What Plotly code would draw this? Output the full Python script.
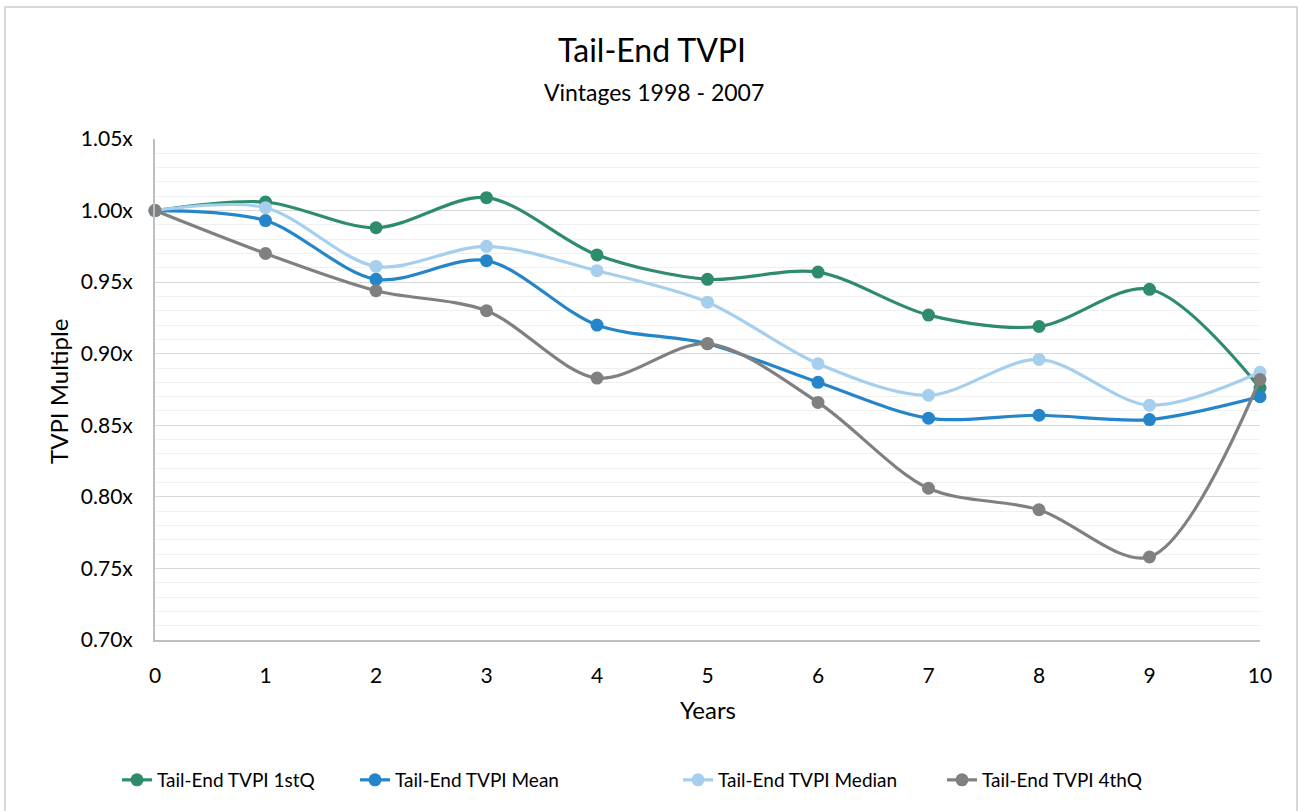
import plotly.graph_objects as go

years = [0, 1, 2, 3, 4, 5, 6, 7, 8, 9, 10]
q1 = [1.000, 1.006, 0.988, 1.009, 0.969, 0.952, 0.957, 0.927, 0.919, 0.945, 0.876]
mean = [1.000, 0.993, 0.952, 0.965, 0.920, 0.907, 0.880, 0.855, 0.857, 0.854, 0.870]
median = [1.000, 1.002, 0.961, 0.975, 0.958, 0.936, 0.893, 0.871, 0.896, 0.864, 0.887]
q4 = [1.000, 0.970, 0.944, 0.930, 0.883, 0.907, 0.866, 0.806, 0.791, 0.758, 0.882]

series = [
    ("Tail-End TVPI 1stQ", q1, "#2E8B6C", "legend"),
    ("Tail-End TVPI Mean", mean, "#2585C9", "legend2"),
    ("Tail-End TVPI Median", median, "#A6CFEE", "legend3"),
    ("Tail-End TVPI 4thQ", q4, "#808080", "legend4"),
]
legend_text_x = [157, 395, 718, 982]

FONT = "Lato, 'Open Sans', sans-serif"
L, R, T, B = 155, 39, 139, 171
PH = 811 - T - B
PW = 1299 - L - R


def py(p):
    return (811 - B - p) / PH


def px(p):
    return (p - L) / PW


fig = go.Figure()
for name, vals, color, lg in series:
    fig.add_trace(go.Scatter(
        x=years, y=vals, name=name, mode="lines+markers",
        line=dict(color=color, width=3.2, shape="spline", smoothing=0.9),
        marker=dict(color=color, size=13),
        cliponaxis=False, legend=lg,
    ))

legends = {}
for key, tx in zip(["legend", "legend2", "legend3", "legend4"], legend_text_x):
    legends[key] = dict(orientation="h", x=px(tx - 40), xanchor="left", y=py(780), yanchor="middle",
                        font=dict(size=19, family=FONT), bgcolor="rgba(0,0,0,0)")

fig.update_layout(
    width=1299, height=811,
    margin=dict(l=L, r=R, t=T, b=B),
    paper_bgcolor="white", plot_bgcolor="white",
    font=dict(family=FONT, size=21, color="#000000"),
    showlegend=True,
    **legends,
    xaxis=dict(
        range=[0, 10], tickmode="array", tickvals=years, ticktext=[str(v) for v in years],
        showgrid=False, zeroline=False, showline=True, linecolor="#bfbfbf", linewidth=2,
        ticks="", ticklabelstandoff=16, tickfont=dict(size=21),
    ),
    yaxis=dict(
        range=[0.70, 1.05], dtick=0.05, tick0=0.70, tickformat=".2f", ticksuffix="x",
        showgrid=True, gridcolor="#d9d9d9", gridwidth=1.2,
        minor=dict(dtick=0.01, showgrid=True, gridcolor="#f0f0f0", gridwidth=1),
        zeroline=False, showline=True, linecolor="#bfbfbf", linewidth=2,
        ticks="", ticklabelstandoff=16, tickfont=dict(size=21),
    ),
    annotations=[
        dict(text="Tail-End TVPI", xref="paper", yref="paper", x=px(652), y=py(50),
             xanchor="center", yanchor="middle", showarrow=False, font=dict(size=32)),
        dict(text="Vintages 1998 - 2007", xref="paper", yref="paper", x=px(654), y=py(92),
             xanchor="center", yanchor="middle", showarrow=False, font=dict(size=23)),
        dict(text="Years", xref="paper", yref="paper", x=px(708), y=py(709),
             xanchor="center", yanchor="middle", showarrow=False, font=dict(size=24)),
        dict(text="TVPI Multiple", xref="paper", yref="paper", x=px(58), y=py(392),
             xanchor="center", yanchor="middle", showarrow=False, textangle=-90,
             font=dict(size=24)),
    ],
    shapes=[dict(type="rect", xref="paper", yref="paper",
                 x0=px(5), x1=px(1297), y0=py(815), y1=py(7),
                 line=dict(color="#d9d9d9", width=2), fillcolor="rgba(0,0,0,0)", layer="below")],
)

fig.write_html("out.html", config={"displayModeBar": False},
               post_script="document.body.style.margin='0';document.body.style.overflow='hidden';")
